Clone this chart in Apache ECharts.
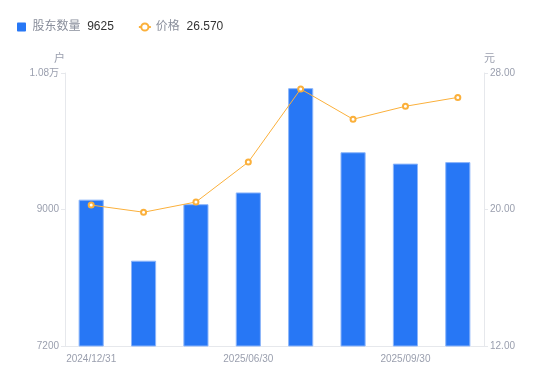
<!DOCTYPE html>
<html>
<head>
<meta charset="utf-8">
<script src="https://cdn.jsdelivr.net/npm/echarts@6/dist/echarts.min.js"></script>
<style>
  html, body { margin: 0; padding: 0; background: #fff; }
  #chart { width: 550px; height: 381px; }
</style>
</head>
<body>
<div id="chart"></div>
<script>
    'use strict';

    // 报告期
    var dates = ['2024/12/31', '2025/03/10', '2025/03/31', '2025/06/30', '2025/07/31', '2025/08/29', '2025/09/30', '2025/10/31'];
    // 股东户数
    var holders = [9130, 8325, 9070, 9225, 10600, 9755, 9605, 9625];
    // 股价
    var prices = [20.26, 19.84, 20.44, 22.78, 27.06, 25.29, 26.05, 26.57];

    var holderTicks = [7200, 10800, 1800];
    var priceTicks = [12, 28, 8];

    var fontFamily = 'Arial, "Noto Sans CJK SC", sans-serif';
    var gray = '#9a9fae';
    var lineGray = '#e6e8ec';
    var barColor = '#2777f5';
    var lineColor = '#fbb03b';

    var lastHolder = holders[holders.length - 1];
    var lastPrice = prices[prices.length - 1];

    var fmtHolder = function (v) {
        if (v >= 10000) return (v / 10000).toFixed(2) + '万';
        return String(v);
    };

    var chart = echarts.init(document.getElementById('chart'));
    var option = {
        animation: false,
        textStyle: { fontFamily: fontFamily },
        legend: {
            left: 12,
            top: 16,
            itemGap: 24,
            itemWidth: 12,
            itemHeight: 9,
            symbolKeepAspect: true,
            data: [
                { name: '股东数量', icon: 'path://M1,0h8a1,1,0,0,1,1,1v8a1,1,0,0,1,-1,1h-8a1,1,0,0,1,-1,-1v-8a1,1,0,0,1,1,-1z', itemStyle: { borderWidth: 0 } },
                { name: '价格' }
            ],
            formatter: function (name) {
                var v = name === '股东数量' ? String(lastHolder) : lastPrice.toFixed(3);
                return '{n|' + name + '}  {v|' + v + '}';
            },
            textStyle: {
                rich: {
                    n: { fontSize: 12, color: '#8a8f9c', fontFamily: fontFamily },
                    v: { fontSize: 12, color: '#333333', fontFamily: fontFamily }
                }
            }
        },
        grid: { left: 65, right: 66, top: 73, bottom: 35 },
        xAxis: {
            type: 'category',
            data: dates,
            axisLine: { lineStyle: { color: lineGray } },
            axisTick: { show: false },
            axisLabel: {
                interval: 2,
                color: gray,
                fontSize: 10,
                margin: 8
            }
        },
        yAxis: [
            {
                type: 'value',
                name: '户',
                nameGap: 9,
                nameTextStyle: { color: gray, fontSize: 11, align: 'right' },
                min: holderTicks[0],
                max: holderTicks[1],
                interval: holderTicks[2],
                axisLine: { show: true, lineStyle: { color: lineGray } },
                axisTick: { show: true, length: 4, lineStyle: { color: lineGray } },
                splitLine: { show: false },
                axisLabel: { color: gray, fontSize: 10, margin: 6, formatter: fmtHolder }
            },
            {
                type: 'value',
                name: '元',
                nameGap: 9,
                nameTextStyle: { color: gray, fontSize: 11, align: 'left' },
                min: priceTicks[0],
                max: priceTicks[1],
                interval: priceTicks[2],
                axisLine: { show: true, lineStyle: { color: lineGray } },
                axisTick: { show: true, length: 4, lineStyle: { color: lineGray } },
                splitLine: { show: false },
                axisLabel: {
                    color: gray, fontSize: 10, margin: 6,
                    formatter: function (v) { return v.toFixed(2); }
                }
            }
        ],
        series: [
            {
                name: '股东数量',
                type: 'bar',
                yAxisIndex: 0,
                barWidth: '48%',
                data: holders,
                itemStyle: { color: barColor, borderColor: '#8db6fa', borderWidth: 1 }
            },
            {
                name: '价格',
                type: 'line',
                yAxisIndex: 1,
                data: prices,
                symbol: 'emptyCircle',
                symbolSize: 5,
                lineStyle: { color: lineColor, width: 1 },
                itemStyle: { color: lineColor, borderWidth: 2 }
            }
        ]
    };
    chart.setOption(option);
</script>
</body>
</html>
